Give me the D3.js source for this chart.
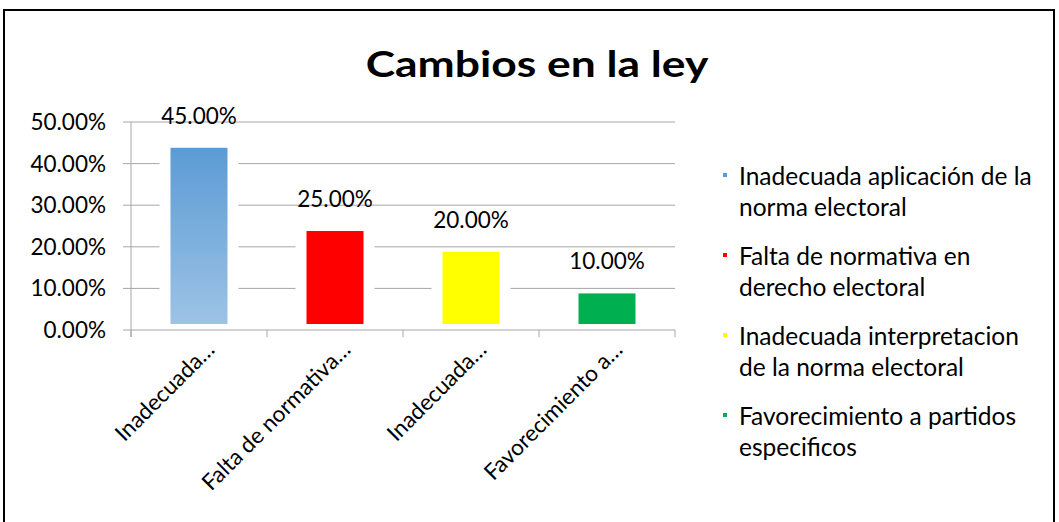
<!doctype html>
<html lang="es">
<head>
<meta charset="utf-8">
<title>Cambios en la ley</title>
<script src="https://cdn.jsdelivr.net/npm/d3@7"></script>
<style>
  body { margin: 0; background: #fff; }
  svg text { font-family: Lato, "Liberation Sans", sans-serif; fill: #000; }
</style>
</head>
<body>
<svg id="chart" width="1059" height="522"></svg>
<script>
// data
var categories = [
  "Inadecuada aplicación de la norma electoral",
  "Falta de normativa en derecho electoral",
  "Inadecuada interpretacion de la norma electoral",
  "Favorecimiento a partidos especificos"
];
var axisLabels = ["Inadecuada…", "Falta de normativa…", "Inadecuada…", "Favorecimiento a…"];
var values = [0.45, 0.25, 0.20, 0.10];
var legendLines = [
  ["Inadecuada aplicación de la", "norma electoral"],
  ["Falta de normativa en", "derecho electoral"],
  ["Inadecuada interpretacion", "de la norma electoral"],
  ["Favorecimiento a partidos", "especificos"]
];
var colors = ["url(#blueGrad)", "#ff0000", "#ffff00", "#00b050"];
var legendColors = ["#5b9bd5", "#ff0000", "#ffff00", "#00b050"];
var yTicks = [0, 0.1, 0.2, 0.3, 0.4, 0.5];

var svg = d3.select("#chart");
var pct = d3.format(".2%");

// gradient for first bar
var grad = svg.append("defs").append("linearGradient")
  .attr("id", "blueGrad").attr("x1", 0).attr("y1", 0).attr("x2", 0).attr("y2", 1);
grad.append("stop").attr("offset", "0%").attr("stop-color", "#5b9bd5");
grad.append("stop").attr("offset", "100%").attr("stop-color", "#9dc3e6");

// outer frame
svg.append("rect")
  .attr("x", 4).attr("y", 10).attr("width", 1050).attr("height", 530)
  .attr("fill", "none").attr("stroke", "#000").attr("stroke-width", 2);

// title (stretched a bit to match the wide original)
svg.append("text")
  .attr("transform", "translate(537,77) scale(1.2,1)")
  .attr("text-anchor", "middle")
  .style("font-size", "37px").style("font-weight", "bold")
  .text("Cambios en la ley");

var x = d3.scaleBand().domain(d3.range(categories.length)).range([131, 675]);
var y = d3.scaleLinear().domain([0, 0.5]).range([330, 122]);

// gridlines
svg.append("g").selectAll("line").data(yTicks).join("line")
  .attr("x1", 123).attr("x2", 675)
  .attr("y1", function(d) { return y(d); }).attr("y2", function(d) { return y(d); })
  .attr("stroke", "#a6a6a6").attr("stroke-width", 1);

// y axis line
svg.append("line")
  .attr("x1", 131).attr("x2", 131).attr("y1", y(0.5)).attr("y2", y(0) + 7)
  .attr("stroke", "#a6a6a6");

// x axis ticks
svg.append("g").selectAll("line").data(d3.range(categories.length + 1)).join("line")
  .attr("x1", function(i) { return 131 + i * x.bandwidth(); })
  .attr("x2", function(i) { return 131 + i * x.bandwidth(); })
  .attr("y1", y(0)).attr("y2", y(0) + 7)
  .attr("stroke", "#a6a6a6");

// y tick labels
svg.append("g").selectAll("text").data(yTicks).join("text")
  .attr("x", 106).attr("y", function(d) { return y(d) + 8; })
  .attr("text-anchor", "end")
  .style("font-size", "22.5px")
  .text(function(d) { return pct(d); });

var barW = 57;

// white gaps in gridlines behind bars
svg.append("g").selectAll("rect").data(values).join("rect")
  .attr("x", function(d, i) { return x(i) + x.bandwidth() / 2 - barW / 2 - 11; })
  .attr("y", function(d) { return y(d) + 5; })
  .attr("width", barW + 22)
  .attr("height", function(d) { return y(0) - y(d) - 6; })
  .attr("fill", "#fff");

// bars
svg.append("g").selectAll("rect").data(values).join("rect")
  .attr("x", function(d, i) { return x(i) + x.bandwidth() / 2 - barW / 2; })
  .attr("y", function(d) { return y(d) + 5; })
  .attr("width", barW)
  .attr("height", function(d) { return y(0) - y(d) - 11; })
  .attr("fill", function(d, i) { return colors[i]; });

// value labels
svg.append("g").selectAll("text").data(values).join("text")
  .attr("x", function(d, i) { return x(i) + x.bandwidth() / 2; })
  .attr("y", function(d) { return y(d) - 19; })
  .attr("text-anchor", "middle")
  .style("font-size", "22.5px")
  .text(function(d) { return pct(d); });

// category labels, rotated
svg.append("g").selectAll("text").data(axisLabels).join("text")
  .attr("transform", function(d, i) {
    return "translate(" + (x(i) + x.bandwidth() / 2 + 17) + "," + (y(0) + 21) + ") rotate(-45)";
  })
  .attr("text-anchor", "end")
  .style("font-size", "22.5px")
  .text(function(d) { return d; });

// legend
var leg = svg.append("g").selectAll("g").data(legendLines).join("g")
  .attr("transform", function(d, i) { return "translate(723," + (185 + i * 80) + ")"; });
leg.append("rect")
  .attr("x", 0).attr("y", -12).attr("width", 4).attr("height", 4)
  .attr("fill", function(d, i) { return legendColors[i]; });
leg.append("text")
  .style("font-size", "24.5px")
  .selectAll("tspan").data(function(d) { return d; }).join("tspan")
  .attr("x", 16).attr("dy", function(d, j) { return j === 0 ? 0 : 31; })
  .text(function(d) { return d; });
</script>
</body>
</html>
